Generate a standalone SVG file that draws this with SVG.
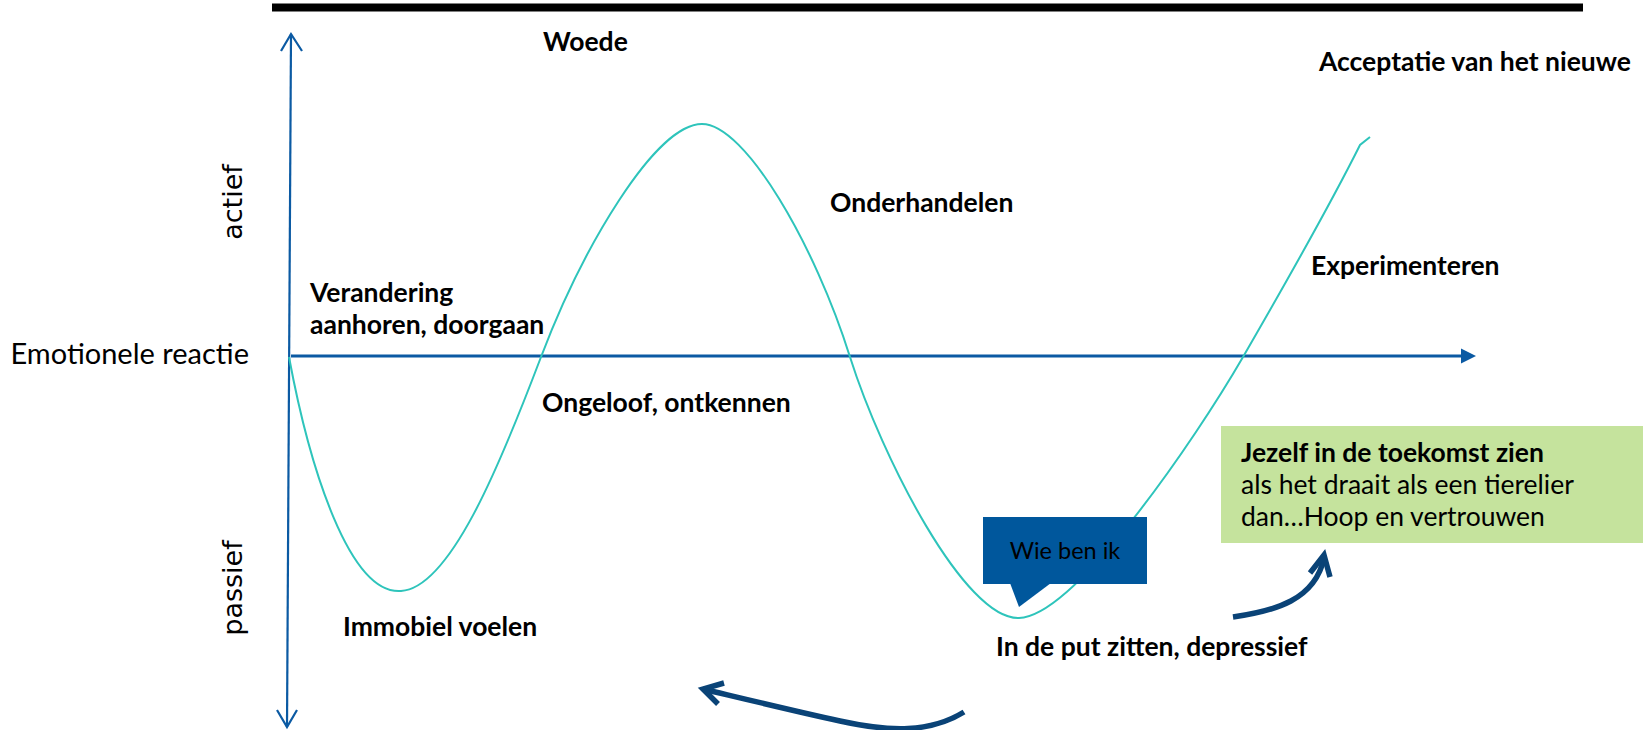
<svg xmlns="http://www.w3.org/2000/svg" width="1643" height="730" viewBox="0 0 1643 730">
<style>
.lbl{font-family:Lato,"Liberation Sans",sans-serif;font-weight:bold;font-size:26.5px;fill:#000}
.reg{font-family:Lato,"Liberation Sans",sans-serif;font-size:26.5px;fill:#000}
.axislbl{font-family:"DejaVu Sans","Open Sans",sans-serif;font-size:27px;fill:#000}
.axis{stroke:#0b5aa3;fill:none}
.curve{stroke:#2ec4bb;stroke-width:2;fill:none}
.darrow{stroke:#0a4377;stroke-width:5.5;fill:none}
</style>
<rect x="0" y="0" width="1643" height="730" fill="#fff"/>
<rect id="topbar" x="272" y="3.5" width="1311" height="8" fill="#000"/>
<g id="connectors">
  <path class="axis" stroke-width="2.2" d="M291,34 L287,727"/>
  <path class="axis" stroke-width="2.2" d="M281,51 L291,34 L302,51"/>
  <path class="axis" stroke-width="2.2" d="M277,710 L287,727 L297,710"/>
  <path class="axis" stroke-width="3" d="M291,356 L1463,356"/>
  <polygon points="1461,348.5 1476,356 1461,363.5" fill="#0b5aa3"/>
  <path id="curve" class="curve" d="M289,357 C310,470 350,595 401,591 C450,588 500,465 541,357 C582,249 655,124 702,124 C745,124 815,245 850,357 C882,458 965,620 1019,618 C1075,616 1195,440 1243,357 C1280,293 1335,195 1360,145 L1370,137"/>
  <path class="darrow" d="M964,712 C930,733 890,732 840,721 C790,710 745,699 703,689"/>
  <path class="darrow" d="M724,683 L703,689 L718,704"/>
  <path class="darrow" d="M1233,617 C1275,611 1315,600 1324,558"/>
  <path class="darrow" d="M1310,573 L1324,555 L1330,577"/>
</g>
<g id="axis-labels">
  <text class="reg" x="10.5" y="364" style="font-size:29px">Emotionele reactie</text>
  <text class="axislbl" text-anchor="middle" transform="translate(242,202) rotate(-90)">actief</text>
  <text class="axislbl" text-anchor="middle" transform="translate(242,588) rotate(-90)">passief</text>
</g>
<g id="woede"><text class="lbl" x="543" y="51">Woede</text></g>
<g id="acceptatie"><text class="lbl" x="1319" y="71">Acceptatie van het nieuwe</text></g>
<g id="onderhandelen"><text class="lbl" x="830" y="212">Onderhandelen</text></g>
<g id="experimenteren"><text class="lbl" x="1311" y="275">Experimenteren</text></g>
<g id="verandering"><text class="lbl" x="310" y="302">Verandering</text><text class="lbl" x="310" y="334">aanhoren, doorgaan</text></g>
<g id="ongeloof"><text class="lbl" x="542" y="412">Ongeloof, ontkennen</text></g>
<g id="immobiel"><text class="lbl" x="343" y="636">Immobiel voelen</text></g>
<g id="put"><text class="lbl" x="996" y="656">In de put zitten, depressief</text></g>
<g id="wiebenik">
  <rect x="983" y="517" width="164" height="67" fill="#00579c"/>
  <polygon points="1010,583 1051,583 1019,607" fill="#00579c"/>
  <text class="reg" x="1065" y="559" text-anchor="middle" style="font-size:23.5px">Wie ben ik</text>
</g>
<g id="toekomst">
  <rect x="1221" y="426" width="422" height="117" fill="#c5e39d"/>
  <text class="lbl" x="1241" y="462">Jezelf in de toekomst zien</text>
  <text class="reg" x="1241" y="494">als het draait als een tierelier</text>
  <text class="reg" x="1241" y="526">dan…Hoop en vertrouwen</text>
</g>
</svg>
